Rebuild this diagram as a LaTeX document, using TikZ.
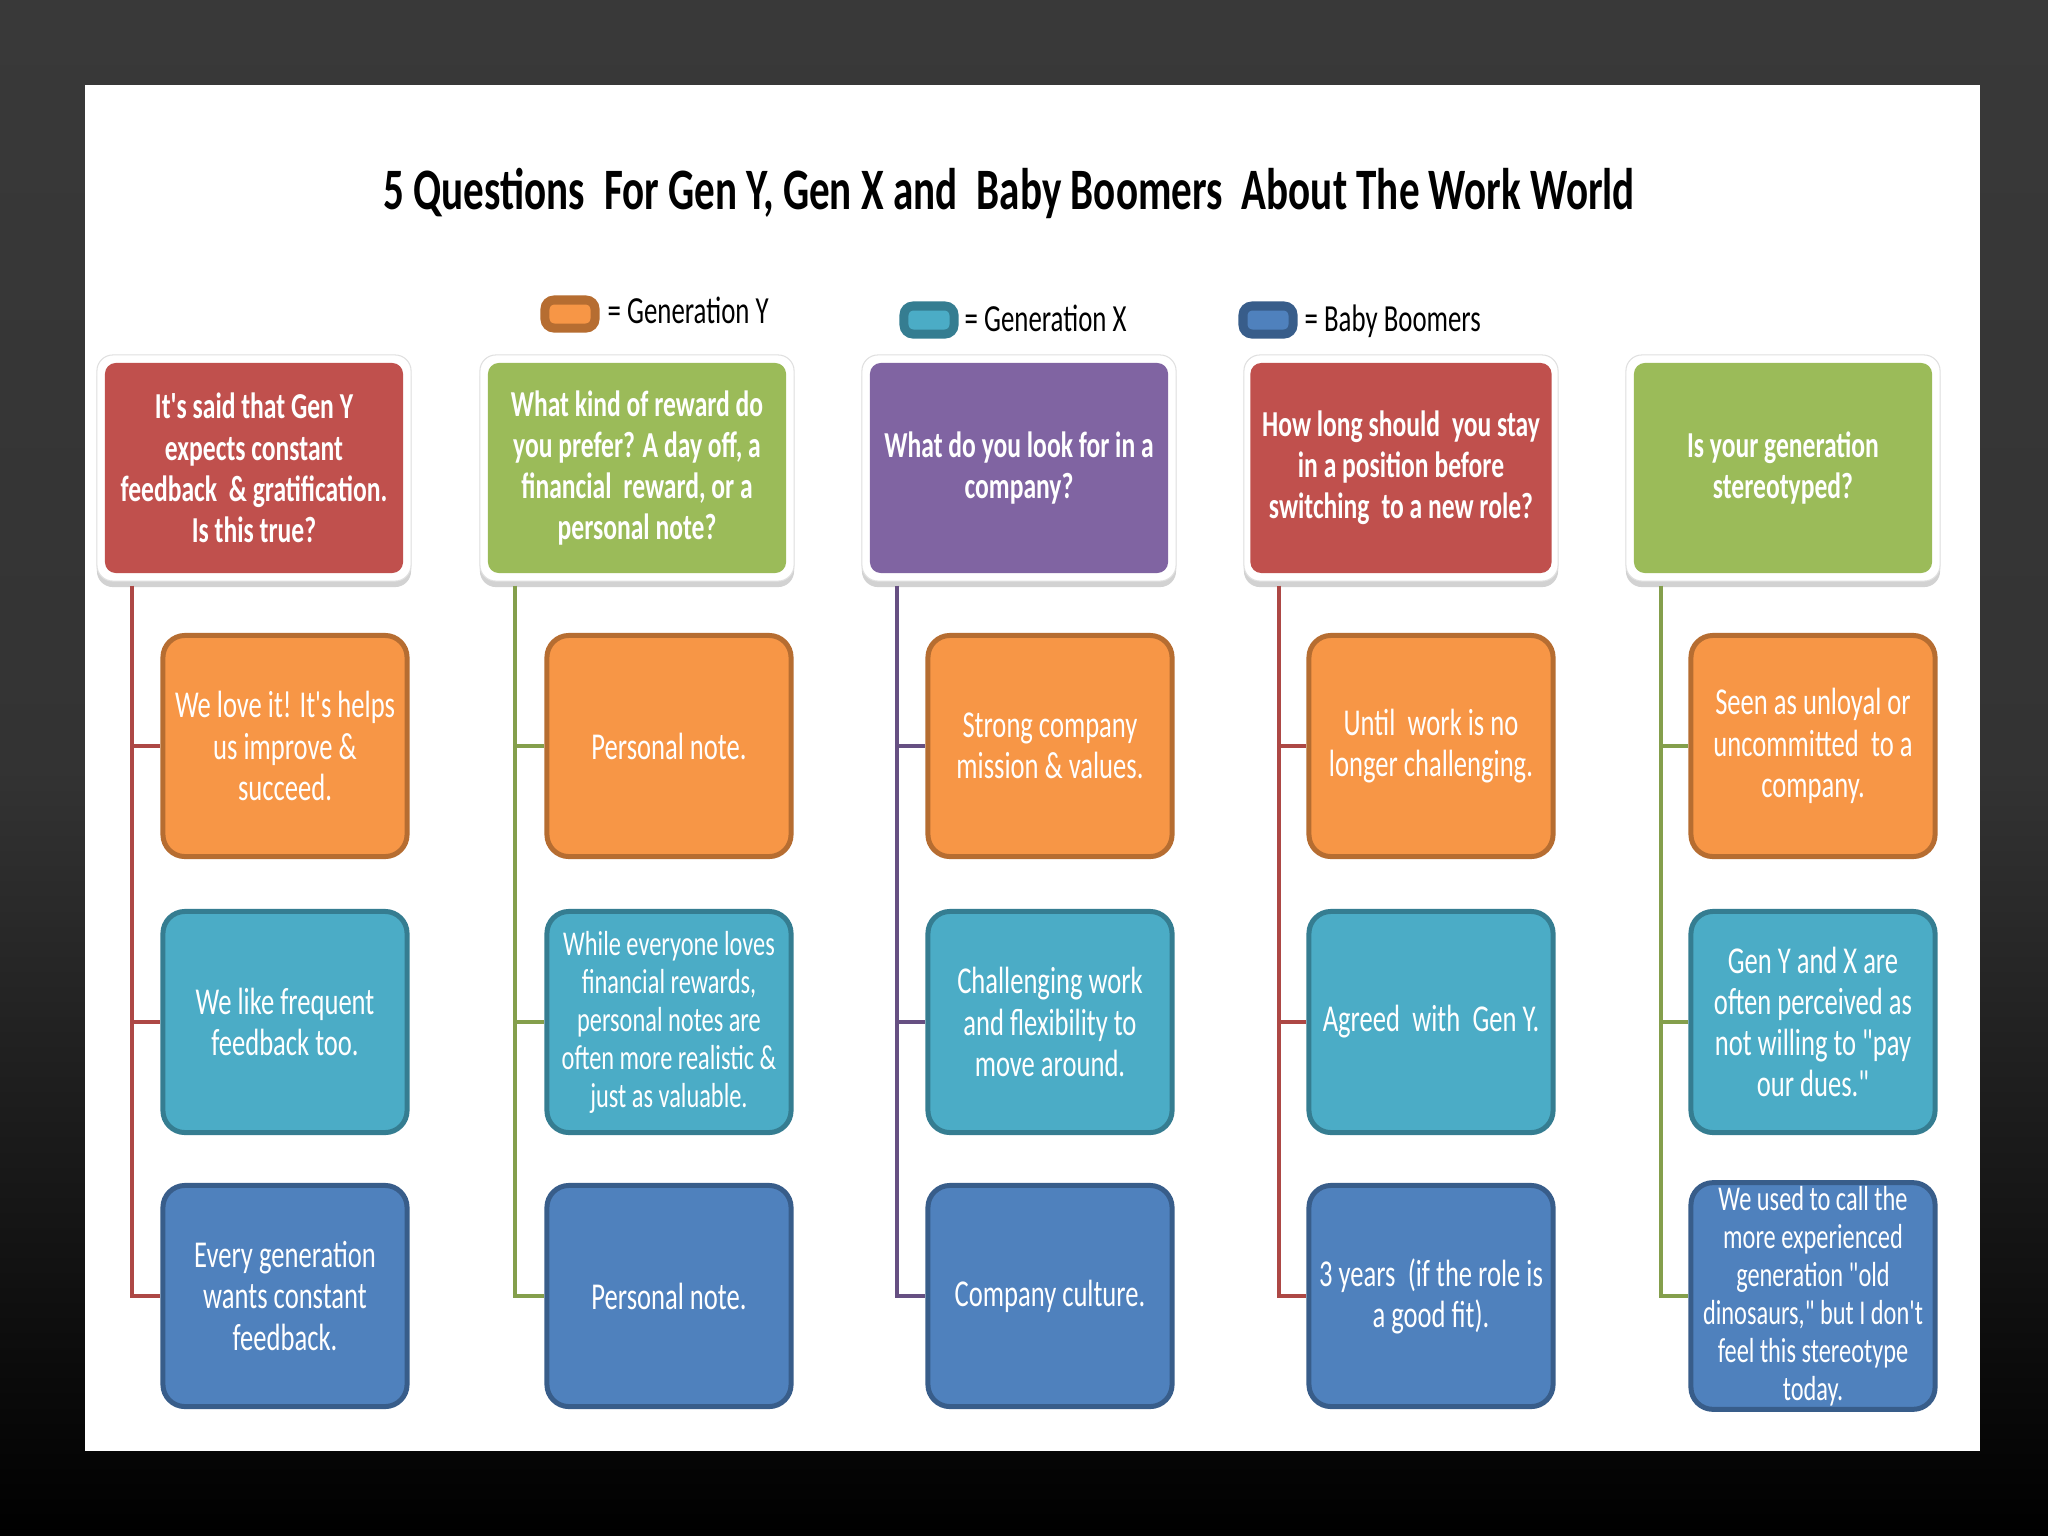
\documentclass[tikz,border=0pt]{standalone}
\usepackage{fontspec}
\newfontfamily\cond{Carlito}[FakeStretch=0.7]
\usetikzlibrary{shadows,calc}
\definecolor{hred}{HTML}{C0504D}
\definecolor{hgreen}{HTML}{9BBB59}
\definecolor{hpurple}{HTML}{8064A2}
\definecolor{orfill}{HTML}{F79646}
\definecolor{ordraw}{HTML}{B66D31}
\definecolor{tefill}{HTML}{4BACC6}
\definecolor{tedraw}{HTML}{357D91}
\definecolor{blfill}{HTML}{4F81BD}
\definecolor{bldraw}{HTML}{385D8A}
\definecolor{bgtop}{HTML}{393939}
\tikzset{
  hframe/.style={fill=white, draw=black!12, line width=0.3pt, rounded corners=1.6mm,
    minimum width=3.14cm, minimum height=2.26cm,
    drop shadow={shadow xshift=0pt, shadow yshift=-0.6mm, opacity=0.35}},
  hbox/.style={fill=#1, rounded corners=1.1mm, minimum width=2.98cm, minimum height=2.10cm,
    text=white, align=center, font=\cond\bfseries\fontsize{10.4}{11.7}\selectfont},
  kbox/.style 2 args={fill=#1, draw=#2, line width=0.5mm, rounded corners=2.2mm,
    minimum width=2.44cm, minimum height=2.21cm, inner sep=1pt,
    text=white, align=center, font=\cond\fontsize{10.8}{11.7}\selectfont},
  kor/.style={kbox={orfill}{ordraw}},
  kte/.style={kbox={tefill}{tedraw}},
  kbl/.style={kbox={blfill}{bldraw}},
  tight/.style={font=\cond\fontsize{9.9}{10.8}\selectfont},
  conn/.style={draw=#1, line width=0.45mm},
  swatch/.style 2 args={fill=#1, draw=#2, line width=0.9mm, rounded corners=0.9mm,
    minimum width=0.5cm, minimum height=0.28cm, inner sep=0pt},
  legtext/.style={anchor=base west, inner sep=0pt, text=black, font=\cond\fontsize{10.9}{12}\selectfont},
}
\begin{document}
\begin{tikzpicture}[x=0.01cm, y=-0.01cm]
\useasboundingbox (0,0) rectangle (2048,1536);
\shade[top color=bgtop, bottom color=black, middle color=black!80] (0,0) rectangle (2048,1536);
\fill[white] (85,85) rectangle (1980,1451);

\node[anchor=base, inner sep=0pt, font=\cond\bfseries\fontsize{16.7}{20}\selectfont] (title) at (1009,209)
  {5 Questions\, For Gen Y, Gen X and\, Baby Boomers\, About The Work World};

\node[swatch={orfill}{ordraw}] (sy) at (570,314) {};
\node[legtext] (ly) at (607,323) {= Generation Y};
\node[swatch={tefill}{tedraw}] (sx) at (929,320) {};
\node[legtext] (lx) at (964,331) {= Generation X};
\node[swatch={blfill}{bldraw}] (sb) at (1268,320) {};
\node[legtext] (lb) at (1304,331) {= Baby Boomers};

% headers
\foreach \i/\cx in {1/254,2/637,3/1019,4/1401,5/1783}{
  \node[hframe] (hf\i) at (\cx,468) {};
}
\node[hbox=hred] (h1) at (254,468) {It's said that Gen Y\\expects constant\\feedback \,\& gratification.\\Is this true?};
\node[hbox=hgreen] (h2) at (637,468) {What kind of reward do\\you prefer? A day off, a\\financial\, reward, or a\\personal note?};
\node[hbox=hpurple] (h3) at (1019,468) {What do you look for in a\\company?};
\node[hbox=hred] (h4) at (1401,468) {How long should\, you stay\\in a position before\\switching\, to a new role?};
\node[hbox=hgreen] (h5) at (1783,468) {Is your generation\\stereotyped?};

% children
\node[kor] (k11) at (285,746) {We love it! It's helps\\us improve \&\\succeed.};
\node[kte] (k12) at (285,1022) {We like frequent\\feedback too.};
\node[kbl] (k13) at (285,1296) {Every generation\\wants constant\\feedback.};

\node[kor] (k21) at (669,746) {Personal note.};
\node[kte, tight] (k22) at (669,1022) {While everyone loves\\financial rewards,\\personal notes are\\often more realistic \&\\just as valuable.};
\node[kbl] (k23) at (669,1296) {Personal note.};

\node[kor] (k31) at (1050,746) {Strong company\\mission \& values.};
\node[kte] (k32) at (1050,1022) {Challenging work\\and flexibility to\\move around.};
\node[kbl] (k33) at (1050,1296) {Company culture.};

\node[kor] (k41) at (1431,746) {Until\, work is no\\longer challenging.};
\node[kte] (k42) at (1431,1022) {Agreed\, with\, Gen Y.};
\node[kbl] (k43) at (1431,1296) {3 years\, (if the role is\\a good fit).};

\node[kor] (k51) at (1813,746) {Seen as unloyal or\\uncommitted\, to a\\company.};
\node[kte] (k52) at (1813,1022) {Gen Y and X are\\often perceived as\\not willing to "pay\\our dues."};
\node[kbl, tight] (k53) at (1813,1296) {We used to call the\\more experienced\\generation "old\\dinosaurs," but I don't\\feel this stereotype\\today.};

% connectors
\foreach \i/\col in {1/hred!90!black,2/hgreen!85!black,3/hpurple!80!black,4/hred!90!black,5/hgreen!85!black}{
  \coordinate (t\i) at ($(hf\i.south)+(-122,4)$);
  \draw[conn=\col] (t\i) |- (k\i3.west);
  \draw[conn=\col] (t\i |- k\i1.west) -- (k\i1.west);
  \draw[conn=\col] (t\i |- k\i2.west) -- (k\i2.west);
}
\end{tikzpicture}
\end{document}
